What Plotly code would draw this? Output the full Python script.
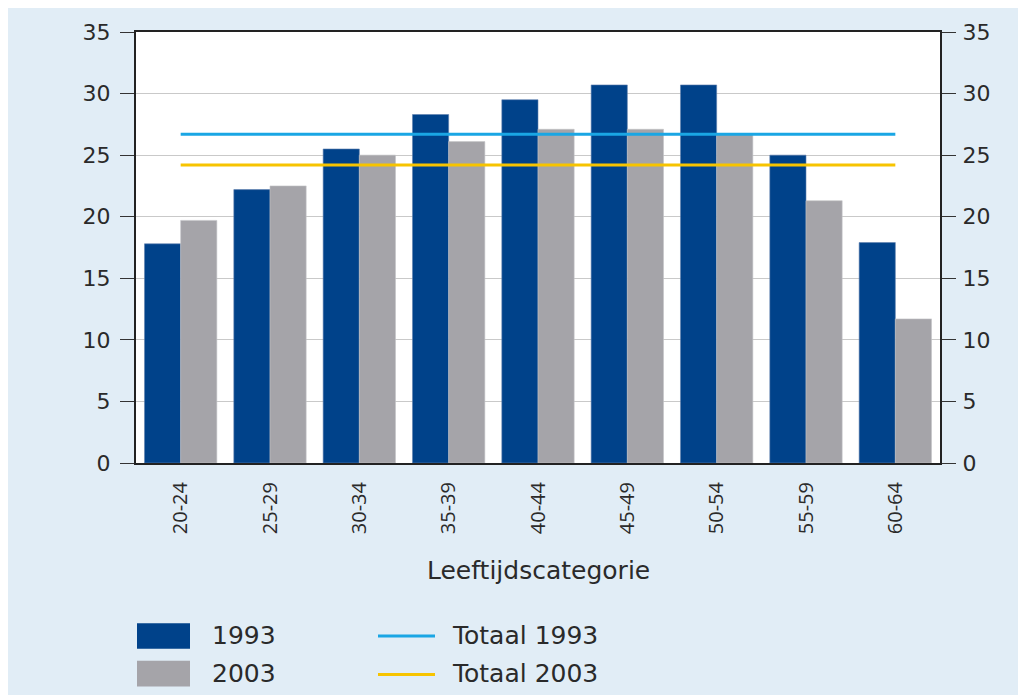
import plotly.graph_objects as go

categories = ["20-24", "25-29", "30-34", "35-39", "40-44", "45-49", "50-54", "55-59", "60-64"]
values_1993 = [17.8, 22.2, 25.5, 28.3, 29.5, 30.7, 30.7, 25.0, 17.9]
values_2003 = [19.7, 22.5, 25.0, 26.1, 27.1, 27.1, 26.7, 21.3, 11.7]
totaal_1993 = 26.7
totaal_2003 = 24.2
y_ticks = [0, 5, 10, 15, 20, 25, 30, 35]

C_1993 = "#00428a"
C_2003 = "#a5a4a9"
C_T93 = "#1aa6e4"
C_T03 = "#f7c400"
BG = "#e1edf6"
FONT = "DejaVu Sans"
TXT = "#2a2a2a"

OFF = 8  # page body margin
W, H = 1026 - OFF, 695 - OFF
# page-pixel positions of the plot area
L, R, T, B = 136 - OFF, 940 - OFF, 27 - OFF, 463 - OFF

def px(x):
    return (x - OFF - L) / (R - L)

def py(y):
    return (B - (y - OFF)) / (B - T)

fig = go.Figure()
fig.add_trace(go.Bar(x=categories, y=values_1993, name="1993",
                     marker=dict(color=C_1993, line=dict(width=0.6, color="#5f7fae"))))
fig.add_trace(go.Bar(x=categories, y=values_2003, name="2003",
                     marker=dict(color=C_2003, line=dict(width=0.6, color="#c4c4c8"))))
fig.add_trace(go.Scatter(x=categories, y=[totaal_1993] * len(categories), mode="lines", name="Totaal 1993",
                         line=dict(color=C_T93, width=3), yaxis="y2"))
fig.add_trace(go.Scatter(x=categories, y=[totaal_2003] * len(categories), mode="lines", name="Totaal 2003",
                         line=dict(color=C_T03, width=3), yaxis="y2"))

axis_common = dict(range=[0, 35], tickvals=y_ticks, ticks="outside", ticklen=14, tickcolor="#333",
                   tickwidth=1, showline=True, linecolor="#222", linewidth=2,
                   tickfont=dict(family=FONT, size=22, color=TXT), fixedrange=True)

fig.update_layout(
    width=W, height=H,
    margin=dict(l=L, r=W - R, t=T, b=H - B),
    paper_bgcolor=BG, plot_bgcolor="white",
    barmode="group", bargap=0.19, bargroupgap=0,
    showlegend=False,
    xaxis=dict(range=[-0.5, 8.5], tickangle=-90, ticks="", showline=True, linecolor="#222", linewidth=2,
               mirror=True, showgrid=False, ticklabelstandoff=9,
               tickfont=dict(family="Open Sans", size=20, color=TXT)),
    yaxis=dict(**axis_common, showgrid=True, gridcolor="#c9c9c9", gridwidth=1, zeroline=False,
               ticklabelstandoff=5),
    yaxis2=dict(**axis_common, overlaying="y", side="right", showgrid=False, zeroline=False,
                ticklabelstandoff=2),
)

shapes = [
    dict(type="rect", xref="paper", yref="paper", x0=px(137), x1=px(190), y0=py(651), y1=py(625),
         fillcolor=C_1993, line=dict(width=0)),
    dict(type="rect", xref="paper", yref="paper", x0=px(137), x1=px(190), y0=py(689), y1=py(663),
         fillcolor=C_2003, line=dict(width=0)),
    dict(type="line", xref="paper", yref="paper", x0=px(378), x1=px(435), y0=py(638), y1=py(638),
         line=dict(color=C_T93, width=3)),
    dict(type="line", xref="paper", yref="paper", x0=px(378), x1=px(435), y0=py(677), y1=py(677),
         line=dict(color=C_T03, width=3)),
]
fig.update_layout(shapes=shapes)

ann_font = dict(family=FONT, size=25, color=TXT)
annotations = [
    dict(text="Leeftijdscategorie", xref="paper", yref="paper", x=px(538), y=py(572),
         xanchor="center", yanchor="middle", showarrow=False, font=ann_font),
    dict(text="1993", xref="paper", yref="paper", x=px(210), y=py(638), xanchor="left", yanchor="middle",
         showarrow=False, font=ann_font),
    dict(text="2003", xref="paper", yref="paper", x=px(210), y=py(676), xanchor="left", yanchor="middle",
         showarrow=False, font=ann_font),
    dict(text="Totaal 1993", xref="paper", yref="paper", x=px(450), y=py(638), xanchor="left", yanchor="middle",
         showarrow=False, font=ann_font),
    dict(text="Totaal 2003", xref="paper", yref="paper", x=px(450), y=py(676), xanchor="left", yanchor="middle",
         showarrow=False, font=ann_font),
]
fig.update_layout(annotations=annotations)

fig.write_html("out.html")
